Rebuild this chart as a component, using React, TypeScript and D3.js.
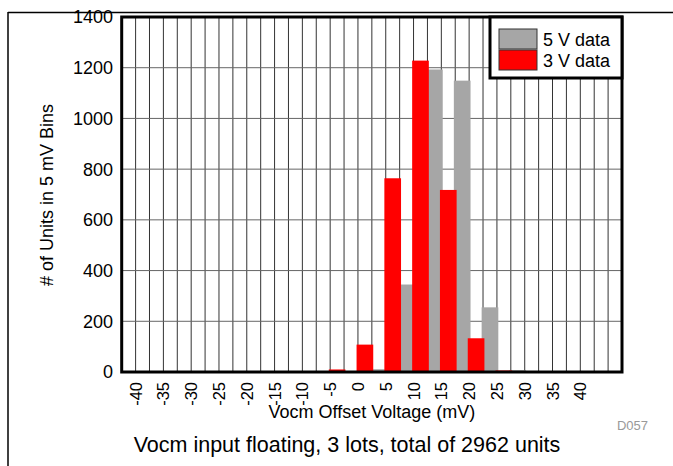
import React from "react";
import * as d3 from "d3";

const categories = [-40, -35, -30, -25, -20, -15, -10, -5, 0, 5, 10, 15, 20, 25, 30, 35, 40, 45];
const tickLabels = ["-40", "-35", "-30", "-25", "-20", "-15", "-10", "-5", "0", "5", "10", "15", "20", "25", "30", "35", "40", ""];
const data5V = [0, 0, 0, 0, 0, 0, 0, 0, 0, 11, 345, 1193, 1149, 255, 7, 0, 0, 0];
const data3V = [0, 0, 0, 0, 0, 0, 0, 10, 108, 764, 1228, 718, 133, 6, 0, 0, 0, 0];
const yTicks = [0, 200, 400, 600, 800, 1000, 1200, 1400];
const seriesNames = ["5 V data", "3 V data"];

const W = 673;
const H = 466;
const FONT = "'Liberation Sans', Arial, sans-serif";

export default function App() {
  const left = 121.7, right = 622, top = 17, bottom = 372;
  const x = d3.scaleBand<number>().domain(categories).range([left, right]).padding(0);
  const y = d3.scaleLinear().domain([0, 1400]).range([bottom, top]);
  const bw = x.bandwidth();
  const cx = (c: number) => (x(c) as number) + bw / 2;

  const vLines: number[] = [];
  categories.forEach((c, i) => {
    if (i > 0) vLines.push(x(c) as number);
    vLines.push(cx(c));
  });

  return (
    <svg width={W} height={H} style={{ position: "absolute", left: 0, top: 0, background: "#fff" }} fontFamily={FONT}>
      <rect x={0} y={0} width={W} height={H} fill="#fff" />
      {/* outer border lines */}
      <line x1={8} x2={W} y1={12.5} y2={12.5} stroke="#000" strokeWidth={1.5} />
      <line x1={8} x2={8} y1={12} y2={H} stroke="#000" strokeWidth={1.5} />

      {/* grid */}
      {vLines.map((vx, i) => (
        <line key={"v" + i} x1={vx} x2={vx} y1={top} y2={bottom} stroke="#333" strokeWidth={1} />
      ))}
      {yTicks.map((t) => (
        <line key={"h" + t} x1={left} x2={right} y1={y(t)} y2={y(t)} stroke="#666" strokeWidth={1} />
      ))}

      {/* gray bars (5 V) */}
      {categories.map((c, i) =>
        data5V[i] > 0 ? (
          <rect key={"g" + c} x={cx(c) - 0.55 * bw} width={0.6 * bw} y={y(data5V[i])} height={y(0) - y(data5V[i])} fill="#A6A6A6" />
        ) : null
      )}
      {/* red bars (3 V) */}
      {categories.map((c, i) =>
        data3V[i] > 0 ? (
          <rect key={"r" + c} x={cx(c) - 0.05 * bw} width={0.6 * bw} y={y(data3V[i])} height={y(0) - y(data3V[i])} fill="#FF0000" />
        ) : null
      )}

      {/* frame */}
      <rect x={left} y={top} width={right - left} height={bottom - top} fill="none" stroke="#000" strokeWidth={3} />

      {/* y tick labels */}
      {yTicks.map((t) => (
        <text key={"yl" + t} x={113} y={y(t)} dy="0.36em" textAnchor="end" fontSize={18} fill="#000">
          {t}
        </text>
      ))}
      {/* x tick labels */}
      {categories.map((c, i) => (
        <text
          key={"xl" + c}
          transform={`translate(${cx(c) + 6},${382}) rotate(-90)`}
          textAnchor="end"
          fontSize={16.5}
          fill="#000"
        >
          {tickLabels[i]}
        </text>
      ))}

      {/* axis titles */}
      <text x={(left + right) / 2} y={418} textAnchor="middle" fontSize={18} fill="#000">
        Vocm Offset Voltage (mV)
      </text>
      <text transform={`translate(53,195) rotate(-90)`} textAnchor="middle" fontSize={18} fill="#000">
        # of Units in 5 mV Bins
      </text>
      <text x={648} y={430} textAnchor="end" fontSize={13} fill="#999">
        D057
      </text>
      <text x={347} y={452} textAnchor="middle" fontSize={21.5} fill="#000">
        Vocm input floating, 3 lots, total of 2962 units
      </text>

      {/* legend */}
      <rect x={490} y={17} width={132} height={61} fill="#fff" stroke="#000" strokeWidth={3} />
      <rect x={499} y={29} width={38} height={20} fill="#A6A6A6" stroke="#333" strokeWidth={1} />
      <rect x={499} y={50} width={38} height={20} fill="#FF0000" stroke="#333" strokeWidth={1} />
      <text x={543} y={46} fontSize={18} fill="#000">{seriesNames[0]}</text>
      <text x={543} y={67} fontSize={18} fill="#000">{seriesNames[1]}</text>
    </svg>
  );
}
